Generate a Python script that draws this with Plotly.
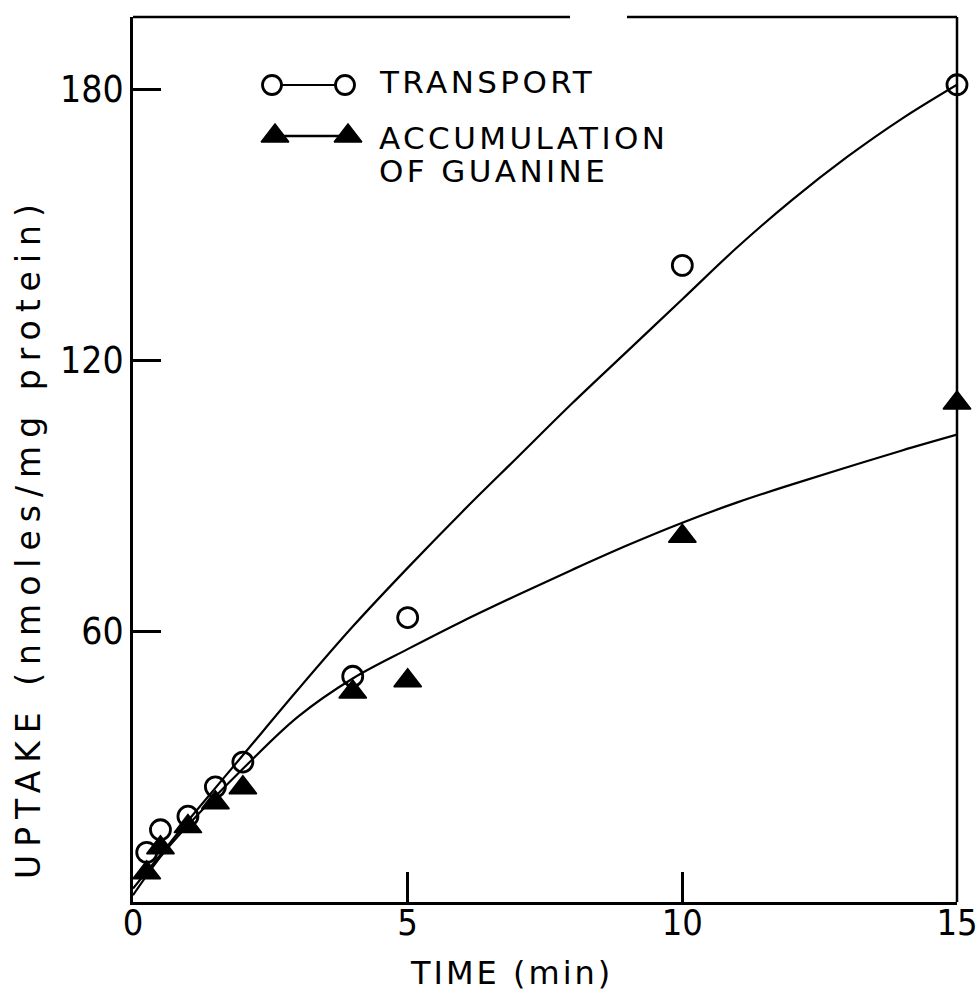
import plotly.graph_objects as go

# ---- data ----
time_pts = [0.25, 0.5, 1, 1.5, 2, 4, 5, 10, 15]
transport = [11, 16, 19, 25.5, 31, 50, 63, 141, 181]
accumulation = [6.5, 12, 16.7, 22, 25.3, 46.5, 49, 81, 110.5]

# fitted curves as drawn on the figure
curve_t_x = [0, 0.5, 1, 2, 3, 4, 5, 6, 7, 8, 9, 10, 11, 12, 13, 14, 15]
curve_t_y = [3, 10.5, 18, 32.5, 47, 61, 74, 86.5, 98.5, 110.5, 122, 133.5, 145, 155.5, 165, 173.5, 181]
curve_a_x = [0, 0.5, 1, 2, 3, 4, 5, 6, 7, 8, 9, 10, 11, 12, 13, 14, 15]
curve_a_y = [1.5, 10, 17, 29.5, 41, 49.5, 56, 62.2, 68, 73.6, 79, 84, 88.5, 92.5, 96.3, 100, 103.5]

x_ticks = [0, 5, 10, 15]
y_ticks = [60, 120, 180]

legend_labels = ["TRANSPORT", "ACCUMULATION", "OF GUANINE"]
x_title = "TIME (min)"
y_title = "UPTAKE (nmoles/mg protein)"

NUM_FONT = "Liberation Sans Narrow, DejaVu Sans Condensed, Roboto, sans-serif"
TXT_FONT = "DejaVu Sans, sans-serif"

L, R, T, B = 133, 957, 17, 902  # plot area in pixels


def spaced(s, px):
    return '<span style="letter-spacing:%.1fpx">%s</span>' % (px, s)


fig = go.Figure()

fig.add_trace(go.Scatter(x=curve_t_x, y=curve_t_y, mode="lines",
                         line=dict(color="black", width=2.2, shape="spline", smoothing=1),
                         showlegend=False, hoverinfo="skip"))
fig.add_trace(go.Scatter(x=curve_a_x, y=curve_a_y, mode="lines",
                         line=dict(color="black", width=2.2, shape="spline", smoothing=1),
                         showlegend=False, hoverinfo="skip"))
fig.add_trace(go.Scatter(x=time_pts, y=transport, mode="markers", name="TRANSPORT",
                         marker=dict(symbol="circle-open", size=20, color="black",
                                     line=dict(width=2.8, color="black")),
                         showlegend=False, cliponaxis=False))
fig.add_trace(go.Scatter(x=time_pts, y=accumulation, mode="markers", name="ACCUMULATION OF GUANINE",
                         marker=dict(symbol="triangle-up", size=24, color="black",
                                     line=dict(width=1.5, color="black")),
                         showlegend=False, cliponaxis=False))

# legend key drawn on a pixel overlay axis
fig.add_trace(go.Scatter(x=[272, 345], y=[85, 85], mode="lines+markers", xaxis="x2", yaxis="y2",
                         line=dict(color="black", width=2),
                         marker=dict(symbol="circle", size=19, color="white",
                                     line=dict(width=2.8, color="black")),
                         showlegend=False, hoverinfo="skip"))
fig.add_trace(go.Scatter(x=[275, 348], y=[136, 136], mode="lines+markers", xaxis="x2", yaxis="y2",
                         line=dict(color="black", width=2.5),
                         marker=dict(symbol="triangle-up", size=24, color="black",
                                     line=dict(width=1.5, color="black")),
                         showlegend=False, hoverinfo="skip"))

annotations = []
for lab, ypx in zip(legend_labels, [82, 138, 171]):
    annotations.append(dict(x=377, y=ypx, xref="x2", yref="y2", text=spaced(lab, 3.4), showarrow=False,
                            xanchor="left", yanchor="middle",
                            font=dict(family=TXT_FONT, size=31, color="black")))
annotations.append(dict(x=(511 - L) / (R - L), y=(B - 973) / (B - T), xref="paper", yref="paper",
                        text=spaced(x_title, 3), showarrow=False, xanchor="center", yanchor="middle",
                        font=dict(family=TXT_FONT, size=32, color="black")))
annotations.append(dict(x=(28 - L) / (R - L), y=(B - 538) / (B - T), xref="paper", yref="paper",
                        text=spaced(y_title, 8), showarrow=False, textangle=-90,
                        xanchor="center", yanchor="middle",
                        font=dict(family=TXT_FONT, size=33, color="black")))

shapes = [
    dict(type="line", xref="paper", yref="paper", x0=0, x1=(570 - L) / (R - L), y0=1, y1=1,
         line=dict(color="black", width=2.5)),
    dict(type="line", xref="paper", yref="paper", x0=(627 - L) / (R - L), x1=1, y0=1, y1=1,
         line=dict(color="black", width=2.5)),
    dict(type="line", xref="paper", yref="paper", x0=1, x1=1, y0=0, y1=1,
         line=dict(color="black", width=2.5)),
]

fig.update_layout(
    width=977, height=1003,
    margin=dict(l=L, r=977 - R, t=T, b=1003 - B, pad=0, autoexpand=False),
    paper_bgcolor="white", plot_bgcolor="white",
    showlegend=False,
    xaxis=dict(range=[0, 15], tickvals=x_ticks, ticktext=[str(v) for v in x_ticks],
               ticks="inside", ticklen=30, tickwidth=2.5, tickcolor="black",
               showline=True, linecolor="black", linewidth=3, showgrid=False, zeroline=False,
               tickfont=dict(family=NUM_FONT, size=36, color="black"), ticklabelstandoff=-13,
               ticklabeloverflow="allow", automargin=False),
    yaxis=dict(range=[0, 196], tickvals=y_ticks, ticktext=[str(v) for v in y_ticks],
               ticks="inside", ticklen=28, tickwidth=2.5, tickcolor="black",
               showline=True, linecolor="black", linewidth=3, showgrid=False, zeroline=False,
               tickfont=dict(family=NUM_FONT, size=37, color="black"), ticklabelstandoff=-1,
               ticklabeloverflow="allow", automargin=False),
    xaxis2=dict(range=[L, R], overlaying="x", visible=False, fixedrange=True),
    yaxis2=dict(range=[B, T], overlaying="y", visible=False, fixedrange=True),
    annotations=annotations,
    shapes=shapes,
)

fig.write_html("out.html")
